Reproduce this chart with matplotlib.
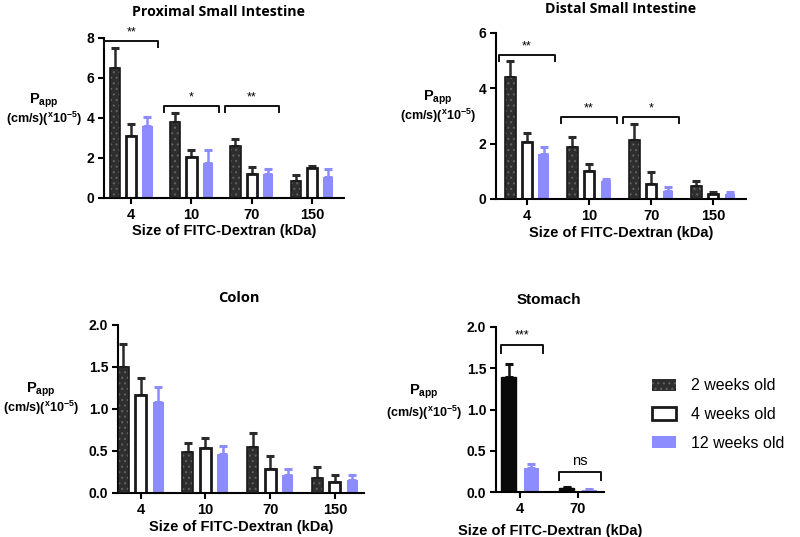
import matplotlib
matplotlib.use('Agg')
from matplotlib import pyplot as plt
from matplotlib.patches import Patch

plt.rcParams['font.family'] = ['Liberation Sans', 'DejaVu Sans']
plt.rcParams['mathtext.fontset'] = 'custom'
plt.rcParams['mathtext.rm'] = 'Liberation Sans:bold'
plt.rcParams['mathtext.it'] = 'Liberation Sans:bold'
plt.rcParams['mathtext.bf'] = 'Liberation Sans:bold'
plt.rcParams['hatch.linewidth'] = 0.8

sizes = ['4', '10', '70', '150']
groups = ['2 weeks old', '4 weeks old', '12 weeks old']

# Proximal small intestine (x10^-5 cm/s)
prox_2w = [6.5, 3.8, 2.6, 0.87]
prox_2w_err = [1.0, 0.45, 0.33, 0.3]
prox_4w = [3.1, 2.05, 1.22, 1.52]
prox_4w_err = [0.6, 0.35, 0.33, 0.1]
prox_12w = [3.6, 1.75, 1.22, 1.07]
prox_12w_err = [0.45, 0.65, 0.21, 0.38]

# Distal small intestine
dist_2w = [4.42, 1.88, 2.15, 0.48]
dist_2w_err = [0.55, 0.36, 0.57, 0.18]
dist_4w = [2.05, 1.0, 0.56, 0.17]
dist_4w_err = [0.33, 0.27, 0.42, 0.07]
dist_12w = [1.64, 0.65, 0.3, 0.19]
dist_12w_err = [0.24, 0.07, 0.15, 0.08]

# Colon
colon_2w = [1.5, 0.49, 0.55, 0.18]
colon_2w_err = [0.27, 0.11, 0.16, 0.13]
colon_4w = [1.17, 0.53, 0.28, 0.13]
colon_4w_err = [0.2, 0.12, 0.16, 0.08]
colon_12w = [1.08, 0.46, 0.22, 0.16]
colon_12w_err = [0.18, 0.1, 0.07, 0.05]

# Stomach (only 4 and 70 kDa, no 4 weeks old data)
stom_sizes = ['4', '70']
stom_2w = [1.4, 0.05]
stom_2w_err = [0.15, 0.015]
stom_12w = [0.29, 0.03]
stom_12w_err = [0.05, 0.006]

# significance brackets: (group index, height, label)
prox_sig = [(0, 7.85, '**'), (1, 4.6, '*'), (2, 4.6, '**')]
dist_sig = [(0, 5.2, '**'), (1, 2.95, '**'), (2, 2.95, '*')]
stom_sig = [(0, 1.78, '***'), (1, 0.24, 'ns')]

DARK = '#2e2e2e'
BLUE = '#8c8cff'
W = 0.17
OFF = 0.27

FW, FH = 800, 537


def px(x, y):
    return x / FW, 1 - y / FH


def dark_bar(ax, x, h, w, dots=True):
    if dots:
        ax.bar(x, h, w, color=DARK, edgecolor='#606060', hatch='...', linewidth=0, zorder=2)
        ax.bar(x, h, w, color='none', edgecolor='#1a1a1a', linewidth=1.2, zorder=3)
    else:
        ax.bar(x, h, w, color='#0a0a0a', edgecolor='#0a0a0a', linewidth=1.0, zorder=2)


def err(ax, x, h, e, color):
    ax.errorbar(x, h, yerr=[[0] * len(h), e], fmt='none', ecolor=color,
                elinewidth=1.8, capsize=3, capthick=2.2, zorder=1)


def style(ax, ticks, labels, ymax, ystep, fmt, xlim):
    ax.set_xlim(*xlim)
    ax.set_ylim(0, ymax)
    yt = [i * ystep for i in range(int(round(ymax / ystep)) + 1)]
    ax.set_yticks(yt)
    ax.set_yticklabels([fmt.format(v) for v in yt], fontweight='bold', fontsize=10)
    ax.set_xticks(ticks)
    ax.set_xticklabels(labels, fontweight='bold', fontsize=10.5)
    for s in ['top', 'right']:
        ax.spines[s].set_visible(False)
    for s in ['left', 'bottom']:
        ax.spines[s].set_linewidth(1.5)
    ax.tick_params(width=1.5, length=4, pad=3)
    ax.set_xlabel('Size of FITC-Dextran (kDa)', fontweight='bold', fontsize=10.5, labelpad=2)


def ylab(x, y1, y2):
    fig.text(*px(x, y1), '$P_{app}$', ha='center', va='center', fontsize=10.5)
    fig.text(*px(x, y2), '(cm/s)($^{x}$10$^{-5}$)', ha='center', va='center', fontsize=9,
             fontweight='bold')


def brackets(ax, sig, left, right, drop, fs=9):
    for g, y, lab in sig:
        ax.plot([g - left, g - left, g + right, g + right], [y - drop, y, y, y - drop],
                color='#111111', lw=1.4, clip_on=False, zorder=4)
        xm = g + (right - left) / 2
        if lab == 'ns':
            ax.text(xm, y + drop * 0.6, lab, ha='center', va='bottom', fontsize=10.5)
        else:
            ax.text(xm, y + drop * 0.5, lab, ha='center', va='bottom', fontsize=fs)


def three_panel(ax, a, ae, b, be, c, ce):
    x = list(range(len(a)))
    xa = [i - OFF for i in x]
    xc = [i + OFF for i in x]
    err(ax, xa, a, ae, '#2a2a2a')
    err(ax, x, b, be, '#2a2a2a')
    err(ax, xc, c, ce, BLUE)
    dark_bar(ax, xa, a, W)
    ax.bar(x, b, W, color='white', edgecolor='#1a1a1a', linewidth=2, zorder=2)
    ax.bar(xc, c, W, color=BLUE, linewidth=0, zorder=2)


fig = plt.figure(figsize=(8, 5.37), dpi=100)
title_font = dict(fontweight='bold', ha='center', va='center')

ax1 = fig.add_axes([104 / FW, 1 - 198 / FH, 240 / FW, 160 / FH])
three_panel(ax1, prox_2w, prox_2w_err, prox_4w, prox_4w_err, prox_12w, prox_12w_err)
style(ax1, range(4), sizes, 8, 2, '{:.0f}', (-0.45, 3.53))
brackets(ax1, prox_sig, 0.45, 0.45, 0.3)
fig.text(*px(218, 12), 'Proximal Small Intestine', fontsize=10.2,
         family=['Open Sans', 'DejaVu Sans'], **title_font)
ylab(44, 101, 119)

ax2 = fig.add_axes([496 / FW, 1 - 199 / FH, 250 / FW, 166 / FH])
three_panel(ax2, dist_2w, dist_2w_err, dist_4w, dist_4w_err, dist_12w, dist_12w_err)
style(ax2, range(4), sizes, 6, 2, '{:.0f}', (-0.5, 3.53))
brackets(ax2, dist_sig, 0.45, 0.45, 0.22)
fig.text(*px(621, 9), 'Distal Small Intestine', fontsize=10.2,
         family=['Open Sans', 'DejaVu Sans'], **title_font)
ylab(438, 98, 116)

ax3 = fig.add_axes([118 / FW, 1 - 493 / FH, 246 / FW, 168 / FH])
three_panel(ax3, colon_2w, colon_2w_err, colon_4w, colon_4w_err, colon_12w, colon_12w_err)
style(ax3, range(4), sizes, 2.0, 0.5, '{:.1f}', (-0.35, 3.45))
fig.text(*px(239, 298), 'Colon', fontsize=10.5, family=['Open Sans', 'DejaVu Sans'], **title_font)
ylab(41, 390, 408)

ax4 = fig.add_axes([496 / FW, 1 - 492 / FH, 108 / FW, 165 / FH])
xs = [0, 1]
x2 = [i - 0.19 for i in xs]
x12 = [i + 0.2 for i in xs]
err(ax4, x2, stom_2w, stom_2w_err, '#111111')
err(ax4, x12, stom_12w, stom_12w_err, BLUE)
dark_bar(ax4, x2, stom_2w, 0.26, dots=False)
ax4.bar(x12, stom_12w, 0.26, color=BLUE, linewidth=0, zorder=2)
style(ax4, xs, stom_sizes, 2.0, 0.5, '{:.1f}', (-0.41, 1.45))
ax4.xaxis.labelpad = 6
brackets(ax4, stom_sig, 0.32, 0.4, 0.09)
fig.text(*px(549, 300), 'Stomach', fontsize=11, **title_font)
ylab(424, 392, 413)

handles = [Patch(facecolor=DARK, edgecolor='#606060', hatch='...', linewidth=0),
           Patch(facecolor='white', edgecolor='#1a1a1a', linewidth=2),
           Patch(facecolor=BLUE, linewidth=0)]
fig.legend(handles, groups, loc='upper left', bbox_to_anchor=(638 / FW, 1 - 364 / FH),
           frameon=False, fontsize=11.5, handlelength=1.45, handleheight=0.8,
           labelspacing=0.85, handletextpad=0.95)

fig.savefig('out.png', dpi=100)
